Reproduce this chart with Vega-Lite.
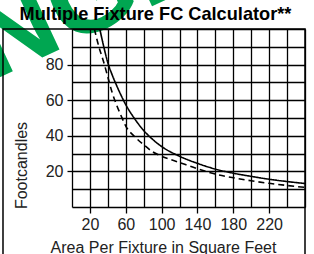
{
  "$schema": "https://vega.github.io/schema/vega-lite/v6.json",
  "autosize": "none",
  "width": 233,
  "height": 178,
  "padding": {"left": 72, "top": 29, "right": 9, "bottom": 47},
  "background": "white",
  "title": {
    "text": "Multiple Fixture FC Calculator**",
    "font": "Liberation Sans",
    "fontSize": 18.2,
    "fontWeight": "bold",
    "color": "black",
    "anchor": "middle",
    "frame": "group",
    "baseline": "alphabetic",
    "offset": 9,
    "dx": -33,
    "dy": 151
  },
  "config": {
    "view": {"stroke": null},
    "font": "Liberation Sans"
  },
  "datasets": {
    "curves": [
      {"area": 31, "fc": 100, "series": "solid"},
      {"area": 35, "fc": 91, "series": "solid"},
      {"area": 40, "fc": 81, "series": "solid"},
      {"area": 45, "fc": 74, "series": "solid"},
      {"area": 50, "fc": 68, "series": "solid"},
      {"area": 55, "fc": 62.5, "series": "solid"},
      {"area": 60, "fc": 57.5, "series": "solid"},
      {"area": 70, "fc": 49.5, "series": "solid"},
      {"area": 80, "fc": 43, "series": "solid"},
      {"area": 90, "fc": 38, "series": "solid"},
      {"area": 100, "fc": 34, "series": "solid"},
      {"area": 120, "fc": 28.5, "series": "solid"},
      {"area": 140, "fc": 24.5, "series": "solid"},
      {"area": 160, "fc": 21.3, "series": "solid"},
      {"area": 180, "fc": 19, "series": "solid"},
      {"area": 200, "fc": 17.2, "series": "solid"},
      {"area": 220, "fc": 15.6, "series": "solid"},
      {"area": 240, "fc": 14.3, "series": "solid"},
      {"area": 260, "fc": 13.2, "series": "solid"},
      {"area": 25, "fc": 100, "series": "dashed"},
      {"area": 30, "fc": 90, "series": "dashed"},
      {"area": 35, "fc": 82, "series": "dashed"},
      {"area": 40, "fc": 73, "series": "dashed"},
      {"area": 45, "fc": 64, "series": "dashed"},
      {"area": 50, "fc": 57, "series": "dashed"},
      {"area": 55, "fc": 51, "series": "dashed"},
      {"area": 60, "fc": 45.5, "series": "dashed"},
      {"area": 70, "fc": 39.5, "series": "dashed"},
      {"area": 80, "fc": 35, "series": "dashed"},
      {"area": 90, "fc": 31, "series": "dashed"},
      {"area": 100, "fc": 28.5, "series": "dashed"},
      {"area": 120, "fc": 25, "series": "dashed"},
      {"area": 140, "fc": 21.5, "series": "dashed"},
      {"area": 160, "fc": 18.5, "series": "dashed"},
      {"area": 180, "fc": 16.4, "series": "dashed"},
      {"area": 200, "fc": 14.7, "series": "dashed"},
      {"area": 220, "fc": 13.3, "series": "dashed"},
      {"area": 240, "fc": 12.1, "series": "dashed"},
      {"area": 260, "fc": 11, "series": "dashed"}
    ],
    "one": [{"label": "CHANGE"}]
  },
  "resolve": {"axis": {"x": "independent", "y": "independent"}},
  "layer": [
    {
      "data": {"name": "one"},
      "mark": {"type": "text", "font": "Liberation Sans", "fontSize": 112, "fontWeight": "bold", "color": "#00a651", "angle": -25, "align": "right", "baseline": "alphabetic", "clip": false},
      "encoding": {
        "text": {"field": "label"},
        "x": {"datum": 157.3, "type": "quantitative", "axis": null},
        "y": {"datum": 128.7, "type": "quantitative", "axis": null}
      }
    },
    {
      "data": {"name": "one"},
      "mark": {"type": "rect", "fillOpacity": 0, "stroke": "black", "strokeWidth": 1.5, "clip": false},
      "encoding": {
        "x": {"datum": -77, "type": "quantitative", "axis": null},
        "x2": {"datum": 260},
        "y": {"datum": 100, "type": "quantitative", "axis": null},
        "y2": {"datum": -30}
      }
    },
    {
      "data": {"name": "curves"},
      "mark": {"type": "line", "interpolate": "monotone", "strokeWidth": 1.6, "color": "black", "clip": true},
      "encoding": {
        "x": {
          "field": "area", "type": "quantitative",
          "scale": {"domain": [0, 260], "nice": false, "zero": false},
          "axis": {
            "values": [0, 20, 40, 60, 80, 100, 120, 140, 160, 180, 200, 220, 240, 260],
            "labelExpr": "datum.value % 40 == 20 && datum.value < 250 ? datum.label : ''",
            "labelOverlap": false,
            "labelFlush": false,
            "labelFont": "Liberation Sans",
            "labelFontSize": 16,
            "labelColor": "#222",
            "labelPadding": 3,
            "domain": false,
            "grid": true,
            "gridColor": "black",
            "gridWidth": 1.3,
            "gridOpacity": 1,
            "tickSize": 6,
            "tickColor": "black",
            "tickWidth": 1.3,
            "tickOpacity": {"condition": {"test": "datum.value % 40 == 20 && datum.value < 250", "value": 1}, "value": 0},
            "title": "Area Per Fixture in Square Feet",
            "titleFont": "Liberation Sans",
            "titleFontSize": 16,
            "titleFontWeight": "normal",
            "titleColor": "#222",
            "titleX": 91,
            "titleY": 45,
            "titleAlign": "center",
            "titleBaseline": "alphabetic",
            "zindex": 1
          }
        },
        "y": {
          "field": "fc", "type": "quantitative",
          "scale": {"domain": [0, 100], "nice": false, "zero": false},
          "axis": {
            "values": [0, 10, 20, 30, 40, 50, 60, 70, 80, 90, 100],
            "labelExpr": "datum.value % 20 == 0 && datum.value > 0 && datum.value < 100 ? datum.label : ''",
            "labelOverlap": false,
            "labelFlush": false,
            "labelFont": "Liberation Sans",
            "labelFontSize": 16,
            "labelColor": "#222",
            "labelPadding": 4,
            "domain": false,
            "grid": true,
            "gridColor": "black",
            "gridWidth": 1.3,
            "gridOpacity": 1,
            "tickSize": 5,
            "tickColor": "black",
            "tickWidth": 1.3,
            "tickOpacity": {"condition": {"test": "datum.value % 20 == 0 && datum.value > 0 && datum.value < 100", "value": 1}, "value": 0},
            "title": "Footcandles",
            "titleFont": "Liberation Sans",
            "titleFontSize": 16,
            "titleFontWeight": "normal",
            "titleColor": "#222",
            "titleX": -51,
            "titleY": 136,
            "titleAngle": -90,
            "titleAlign": "center",
            "titleBaseline": "middle",
            "zindex": 1
          }
        },
        "strokeDash": {
          "field": "series", "type": "nominal",
          "scale": {"domain": ["solid", "dashed"], "range": [[1, 0], [6, 4]]},
          "legend": null
        }
      }
    }
  ]
}
